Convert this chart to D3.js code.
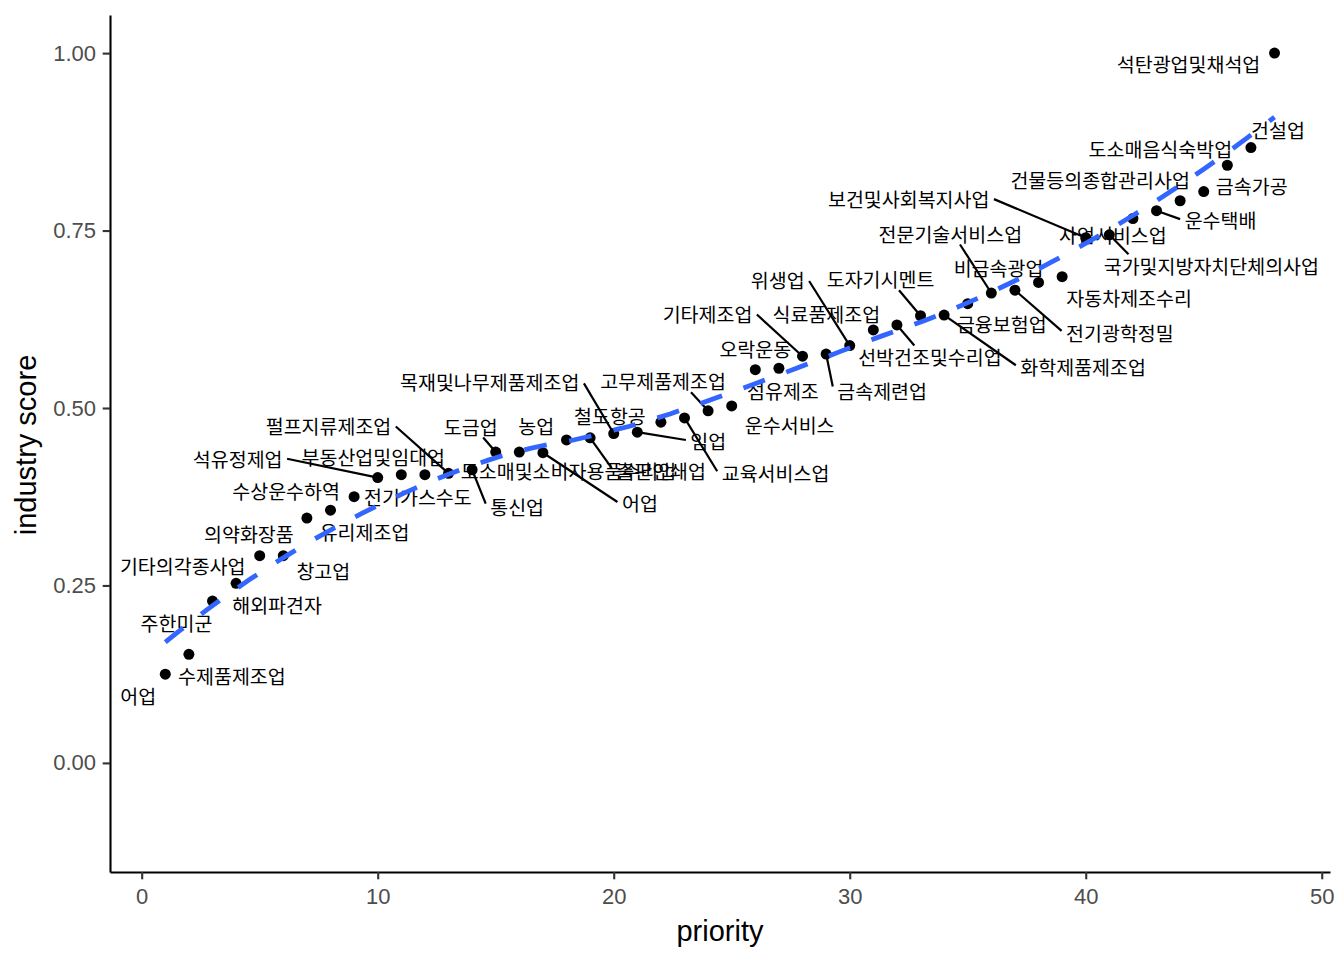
<!DOCTYPE html>
<html><head><meta charset="utf-8">
<script src="https://cdn.jsdelivr.net/npm/d3@7"></script>
<style>body{margin:0;background:#fff}</style>
</head><body>
<svg id="chart" width="1344" height="960"></svg>
<script>
// ---------- data ----------
const priority = [1,2,3,4,5,6,7,8,9,10,11,12,13,14,15,16,17,18,19,20,21,22,23,24,25,26,27,28,29,30,31,32,33,34,35,36,37,38,39,40,41,42,43,44,45,46,47,48];
const industries = ["어업","수제품제조업","주한미군","해외파견자","기타의각종사업","창고업","의약화장품","유리제조업","수상운수하역","석유정제업",
  "부동산업및임대업","전기가스수도","펄프지류제조업","통신업","도금업","농업","어업","도소매및소비자용품수리업","출판인쇄업","목재및나무제품제조업",
  "임업","철도항공","교육서비스업","고무제품제조업","운수서비스","오락운동","섬유제조","기타제조업","금속제련업","위생업",
  "식료품제조업","선박건조및수리업","도자기시멘트","화학제품제조업","금융보험업","전문기술서비스업","전기광학정밀","비금속광업","자동차제조수리","보건및사회복지사업",
  "국가및지방자치단체의사업","사업서비스업","운수택배","건물등의종합관리사업","금속가공","도소매음식숙박업","건설업","석탄광업및채석업"];
const scores = [0.125,0.153,0.228,0.253,0.292,0.292,0.345,0.356,0.375,0.402,
  0.406,0.406,0.408,0.413,0.438,0.438,0.437,0.455,0.458,0.464,
  0.466,0.480,0.486,0.496,0.503,0.554,0.556,0.573,0.576,0.588,
  0.610,0.617,0.630,0.631,0.647,0.662,0.666,0.677,0.685,0.740,
  0.744,0.767,0.778,0.792,0.805,0.842,0.867,1.000];
const xTicks = [0,10,20,30,40,50];
const yTicks = [0,0.25,0.5,0.75,1];
const yTickLabels = ["0.00","0.25","0.50","0.75","1.00"];

// ---------- label layout (repelled label nudges, px) ----------
const labelNudge = [[-27,21],[43,21],[-36,21],[41,21],[-77,10],[40,15],[-58,15],[34,21],[-68,-6],[-140,-19],
  [-28,-18],[-7,22],[-120,-48],[45,37],[-25,-26],[17,-27],[97,50],[2,31],[71,33],[-124,-52],
  [71,8],[-51,-7],[91,55],[-45,-30],[58,19],[0,-21],[4,22],[-95,-43],[56,36],[-72,-66],
  [-47,-16],[33,32],[-40,-37],[139,51],[34,20],[-41,-60],[105,42],[-40,-15],[67,21],[-177,-39],
  [102,31],[-20,16],[64,9],[-80,-21],[48,-6],[-67,-17],[27,-18],[-86,10]];
const hasLeader = [0,0,0,0,0,0,0,0,0,1, 0,0,1,1,1,0,1,0,1,1, 1,0,1,1,0,0,0,1,1,1, 0,1,1,1,0,1,1,0,0,1, 1,0,1,0,0,0,0,0];

const svg = d3.select("#chart");
svg.append("rect").attr("width",1344).attr("height",960).attr("fill","#fff");

const x = d3.scaleLinear().domain([-1.343, 50.35]).range([110, 1330]);
const y = d3.scaleLinear().domain([-0.1537, 1.0537]).range([872, 15]);

// ---------- axes ----------
const gx = svg.append("g").attr("transform","translate(0,872)")
  .call(d3.axisBottom(x).tickValues(xTicks).tickSize(7.3).tickSizeOuter(0).tickPadding(9).tickFormat(d3.format("d")));
const gy = svg.append("g").attr("transform","translate(110,0)")
  .call(d3.axisLeft(y).tickValues(yTicks).tickSize(7.3).tickSizeOuter(0).tickPadding(6.7).tickFormat((d,i)=>yTickLabels[i]));
[gx,gy].forEach(g=>{
  g.select(".domain").attr("stroke","#000").attr("stroke-width",2.1);
  g.selectAll(".tick line").attr("stroke","#333").attr("stroke-width",2.1);
  g.selectAll(".tick text").attr("fill","#4d4d4d").style("font-family","'Liberation Sans', Arial, sans-serif").style("font-size","22px");
});

svg.append("text").attr("x",720).attr("y",941).attr("text-anchor","middle")
  .style("font-family","'Liberation Sans', Arial, sans-serif").style("font-size","29px").text("priority");
svg.append("text").attr("transform","translate(36,445) rotate(-90)").attr("text-anchor","middle")
  .style("font-family","'Liberation Sans', Arial, sans-serif").style("font-size","29px").text("industry score");

// ggrepel-style connection point on the label box
function connect(p, b){ // b=[x1,y1,x2,y2]
  const out=[0,0]; let L=false,R=false,T=false,B=false;
  if (p[0]>=b[0] && p[0]<=b[2]) out[0]=p[0]; else if (p[0]>b[2]) {out[0]=b[2];R=true;} else {out[0]=b[0];L=true;}
  if (p[1]>=b[1] && p[1]<=b[3]) out[1]=p[1]; else if (p[1]>b[3]) {out[1]=b[3];B=true;} else {out[1]=b[1];T=true;}
  const mx=(b[0]+b[2])/2, my=(b[1]+b[3])/2;
  const d=Math.hypot(p[0]-out[0],p[1]-out[1]);
  if ((T||B)&&!(L||R)) { const a=Math.hypot(p[0]-mx,p[1]-out[1]); out[0]+= (mx-out[0])*d/a; }
  else if ((L||R)&&!(T||B)) { const a=Math.hypot(p[0]-out[0],p[1]-my); out[1]+= (my-out[1])*d/a; }
  else if ((L||R)&&(T||B)) {
    const a1=Math.hypot(p[0]-mx,p[1]-out[1]), a2=Math.hypot(p[0]-out[0],p[1]-my);
    if (a1<a2) out[0]+=(mx-out[0])*d/a1; else out[1]+=(my-out[1])*d/a2;
  }
  return out;
}

// ---------- labels + leader segments ----------
const data = priority.map((p,i)=>({p, s:scores[i], name:industries[i], nud:labelNudge[i], lead:hasLeader[i]}));
const segG = svg.append("g");
const labG = svg.append("g");
data.forEach(d=>{
  const px = x(d.p), py = y(d.s);
  const cx = px + d.nud[0], cy = py + d.nud[1];
  const t = labG.append("text").attr("x",cx).attr("y",cy).attr("text-anchor","middle")
    .attr("dominant-baseline","central")
    .style("font-family","'Noto Sans CJK KR', sans-serif").style("font-size","19.5px").attr("fill","#000").text(d.name);
  if (d.lead) {
    const w = t.node().getComputedTextLength();
    const hw = w/2 + 4.5, hh = 11.5;
    const s = connect([px,py],[cx-hw,cy-hh,cx+hw,cy+hh]);
    segG.append("line").attr("x1",s[0]).attr("y1",s[1]).attr("x2",px).attr("y2",py)
      .attr("stroke","#000").attr("stroke-width",2.2);
  }
});

// ---------- points ----------
svg.append("g").selectAll("circle").data(data).join("circle")
  .attr("cx",d=>x(d.p)).attr("cy",d=>y(d.s)).attr("r",5.5).attr("fill","#000");

// ---------- loess smooth (span 0.75, degree 2) ----------
function loess(xs, ys, span, x0s){
  const n = xs.length, q = Math.floor(n*span + 1e-5);
  return x0s.map(x0=>{
    const dist = xs.map(v=>Math.abs(v-x0));
    const h = dist.slice().sort((a,b)=>a-b)[q-1];
    const S = [[0,0,0],[0,0,0],[0,0,0]], b=[0,0,0];
    for (let i=0;i<n;i++){
      const u = dist[i]/h; if (u>=1) continue;
      const w = Math.pow(1-u*u*u,3);
      const t = xs[i]-x0, Bv=[1,t,t*t];
      for (let j=0;j<3;j++){ b[j]+=w*Bv[j]*ys[i]; for(let k=0;k<3;k++) S[j][k]+=w*Bv[j]*Bv[k]; }
    }
    const M = S.map((r,i)=>[...r,b[i]]);
    for (let c=0;c<3;c++){
      let piv=c; for(let r=c+1;r<3;r++) if(Math.abs(M[r][c])>Math.abs(M[piv][c])) piv=r;
      [M[c],M[piv]]=[M[piv],M[c]];
      for(let r=0;r<3;r++){ if(r===c) continue; const fct=M[r][c]/M[c][c]; for(let k=c;k<4;k++) M[r][k]-=fct*M[c][k]; }
    }
    return [x0, M[0][3]/M[0][0]];
  });
}
const xmin = d3.min(priority), xmax = d3.max(priority);
const evalX = d3.range(80).map(i=>xmin + (xmax-xmin)*i/79);
const fit = loess(priority, scores, 0.75, evalX);
svg.append("path").datum(fit)
  .attr("d", d3.line().x(d=>x(d[0])).y(d=>y(d[1])))
  .attr("fill","none").attr("stroke","#3366FF").attr("stroke-width",4.8)
  .attr("stroke-dasharray","22.8,22.8").attr("stroke-linecap","butt");
</script>
</body></html>
